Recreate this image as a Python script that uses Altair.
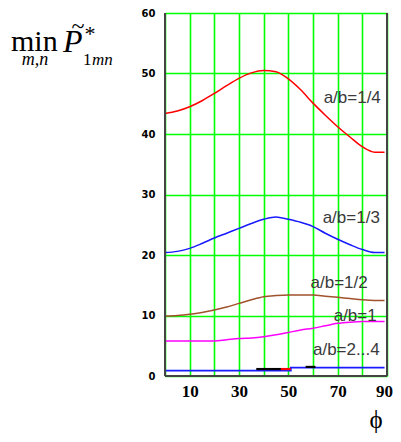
import altair as alt
import pandas as pd

# ---- data ----
phi = [0, 5, 10, 15, 20, 25, 30, 35, 40, 45, 50, 55, 60, 65, 70, 75, 80, 85, 89]
p_14 = [43.4, 43.8, 44.5, 45.5, 46.7, 48.0, 49.2, 50.1, 50.5, 50.3, 49.1, 47.3, 45.1, 43.1, 41.2, 39.5, 37.9, 37.0, 37.0]
p_13 = [20.4, 20.6, 21.1, 21.9, 22.8, 23.6, 24.4, 25.2, 25.9, 26.3, 25.9, 25.4, 24.7, 23.6, 22.6, 21.7, 20.9, 20.4, 20.4]
p_12 = [9.9, 10.0, 10.2, 10.5, 10.9, 11.4, 12.0, 12.6, 13.1, 13.3, 13.4, 13.4, 13.4, 13.2, 13.0, 12.8, 12.6, 12.5, 12.5]
p_1 = [5.8, 5.8, 5.8, 5.8, 5.8, 6.0, 6.2, 6.3, 6.5, 6.8, 7.2, 7.6, 7.9, 8.3, 8.7, 8.9, 9.0, 9.0, 9.0]

phi_24 = [0, 51, 89]
p_24 = [0.9, 1.4, 1.4]

seg_name = ["k1", "k1", "r1", "r1", "k2", "k2"]
seg_phi = [37, 47, 47, 51, 57, 61]
seg_val = [1.15, 1.15, 1.15, 1.15, 1.5, 1.5]
seg_col = ["#000000", "#000000", "#ff0000", "#ff0000", "#000000", "#000000"]

lab_text = ["a/b=1/4", "a/b=1/3", "a/b=1/2", "a/b=1", "a/b=2...4"]
lab_x = [75.9, 75.5, 70.6, 77.1, 73.5]
lab_y = [45.9, 26.1, 15.4, 9.9, 4.3]

x_ticks = list(range(0, 91, 10))
y_ticks = list(range(0, 61, 10))

W, H = 222, 363

rows = []
for name, vals in [("1/4", p_14), ("1/3", p_13), ("1/2", p_12), ("1", p_1)]:
    for a, v in zip(phi, vals):
        rows.append({"s": name, "phi": a, "p": v})
df = pd.DataFrame(rows)
df24 = pd.DataFrame({"phi": phi_24, "p": p_24})
dseg = pd.DataFrame({"s": seg_name, "phi": seg_phi, "p": seg_val, "c": seg_col})
dlab = pd.DataFrame({"t": lab_text, "phi": lab_x, "p": lab_y})

xs = alt.Scale(domain=[0, 90], nice=False, zero=False)
ys = alt.Scale(domain=[0, 60], nice=False)

xaxis = alt.Axis(
    values=x_ticks, title=None, grid=True, gridColor="#00ff00", gridWidth=1.6, gridOpacity=1,
    domain=False, ticks=False, labelExpr="datum.value % 20 == 10 ? datum.label : ''",
    labelFont="Liberation Serif", labelFontWeight="bold", labelFontSize=17, labelColor="#000",
    labelPadding=7, labelFlush=False, labelOverlap=False,
    labelOffset={"condition": {"test": "datum.value == 90", "value": -3}, "value": 0})
yaxis = alt.Axis(
    values=y_ticks, title=None, grid=True, gridColor="#00ff00", gridWidth=1.6, gridOpacity=1,
    domain=False, ticks=False, labelFont="DejaVu Sans", labelFontWeight="bold",
    labelFontSize=10, labelColor="#000", labelPadding=10, labelOverlap=False)


def X():
    return alt.X("phi:Q", scale=xs, axis=xaxis)


def Y():
    return alt.Y("p:Q", scale=ys, axis=yaxis)


curves = alt.Chart(df).mark_line(strokeWidth=1.5, interpolate="monotone").encode(
    x=X(), y=Y(),
    color=alt.Color("s:N", scale=alt.Scale(domain=["1/4", "1/3", "1/2", "1"],
                                           range=["#ff0000", "#1a1aff", "#a0522d", "#ff00ff"]),
                    legend=None),
    detail="s:N")

bottom = alt.Chart(df24).mark_line(strokeWidth=1.8, interpolate="step-after", color="#1a1aff").encode(
    x=X(), y=Y())

segs = alt.Chart(dseg).mark_line(strokeWidth=2.2).encode(
    x=X(), y=Y(), color=alt.Color("c:N", scale=None), detail="s:N")

labels = alt.Chart(dlab).mark_text(font="Liberation Sans", fontSize=17, color="#3a3a3a").encode(
    x=X(), y=Y(), text="t:N")

border_style = dict(color="#444444", strokeWidth=2)
left_b = alt.Chart(df24).mark_rule(**border_style).encode(x=alt.value(0), y=alt.value(0), y2=alt.value(H))
right_b = alt.Chart(df24).mark_rule(**border_style).encode(x=alt.value(W), y=alt.value(0), y2=alt.value(H))
bot_b = alt.Chart(df24).mark_rule(**border_style).encode(x=alt.value(0), x2=alt.value(W), y=alt.value(H))


def txt(s, x, y, size, style="normal", align="left"):
    return alt.Chart(df24.head(1)).mark_text(
        text=s, font="Liberation Serif", fontSize=size, fontStyle=style,
        align=align, baseline="alphabetic", color="#000").encode(x=alt.value(x), y=alt.value(y))


title = (txt("min", -154, 38, 30) + txt("m,n", -130, 52, 18, "italic", "center")
         + txt("P", -102, 39, 32, "italic") + txt("~", -87, 21, 24, "normal", "center")
         + txt("*", -75, 28, 22, "normal", "center") + txt("1", -82, 52, 17)
         + txt("mn", -73, 52, 17, "italic")
         + txt("ϕ", 211, 415, 25, "normal", "center"))

chart = alt.layer(curves, bottom, segs, labels, left_b, right_b, bot_b, title).properties(
    width=W, height=H,
    autosize=alt.AutoSizeParams(type="none"),
    padding={"left": 157, "top": 5, "right": 6, "bottom": 58},
).configure_view(stroke=None)

chart.save("out.html", embed_options={"renderer": "svg", "actions": False})
